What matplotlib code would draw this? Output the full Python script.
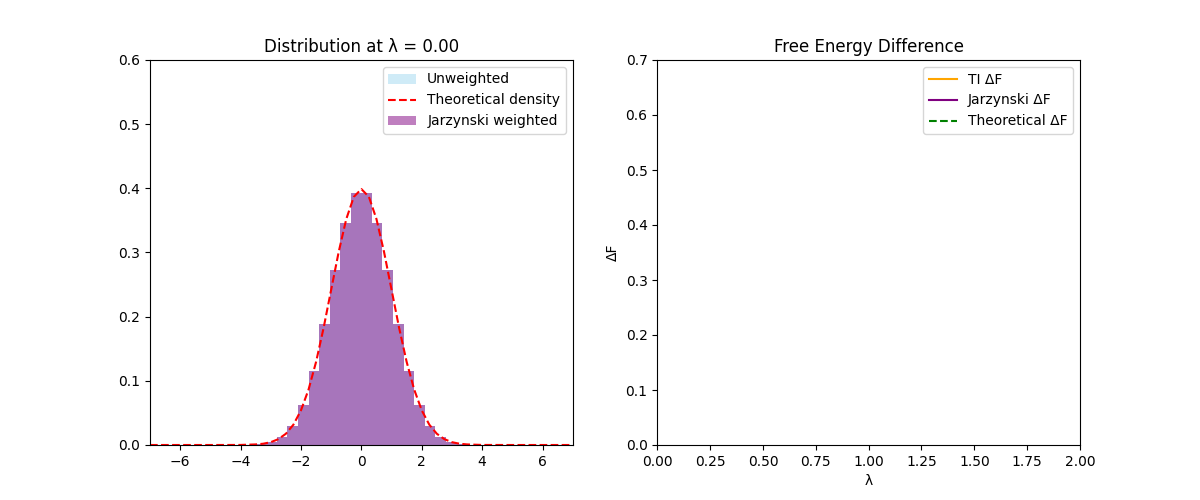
import numpy as np
import matplotlib
matplotlib.use("Agg")
import matplotlib.pyplot as plt

# Histogram bins (-7..7, 40 bins) and density heights
bin_edges = np.linspace(-7, 7, 41)
unweighted_heights = [0, 0, 0, 0, 0, 0, 0, 0, 0, 0.0004,
                      0.0015, 0.005, 0.013, 0.030, 0.063, 0.115, 0.188, 0.272, 0.346, 0.393,
                      0.393, 0.346, 0.272, 0.188, 0.115, 0.063, 0.030, 0.013, 0.005, 0.0015,
                      0.0004, 0, 0, 0, 0, 0, 0, 0, 0, 0]
jarzynski_heights = [0, 0, 0, 0, 0, 0, 0, 0, 0, 0.0004,
                     0.0015, 0.005, 0.013, 0.030, 0.063, 0.115, 0.188, 0.272, 0.346, 0.393,
                     0.393, 0.346, 0.272, 0.188, 0.115, 0.063, 0.030, 0.013, 0.005, 0.0015,
                     0.0004, 0, 0, 0, 0, 0, 0, 0, 0, 0]

# Theoretical density curve points
theory_x = [-7, -6, -5, -4, -3.5, -3.25, -3, -2.75, -2.5, -2.25, -2, -1.75, -1.5, -1.25,
            -1, -0.75, -0.5, -0.25, 0, 0.25, 0.5, 0.75, 1, 1.25, 1.5, 1.75, 2, 2.25,
            2.5, 2.75, 3, 3.25, 3.5, 4, 5, 6, 7]
theory_y = [0, 0, 0, 0.0001, 0.0009, 0.0020, 0.0044, 0.0091, 0.0175, 0.0317, 0.0540,
            0.0863, 0.1295, 0.1826, 0.2420, 0.3011, 0.3521, 0.3867, 0.3989, 0.3867,
            0.3521, 0.3011, 0.2420, 0.1826, 0.1295, 0.0863, 0.0540, 0.0317, 0.0175,
            0.0091, 0.0044, 0.0020, 0.0009, 0.0001, 0, 0, 0]

# Free energy series (empty at lambda = 0)
lam_values = []
ti_dF = []
jarzynski_dF = []
theory_dF = []

fig, (ax1, ax2) = plt.subplots(1, 2, figsize=(12, 5), dpi=100)

widths = np.diff(bin_edges)
h1 = ax1.bar(bin_edges[:-1], unweighted_heights, width=widths, align='edge',
             color='skyblue', alpha=0.4, label='Unweighted')
h2, = ax1.plot(theory_x, theory_y, 'r--', label='Theoretical density')
h3 = ax1.bar(bin_edges[:-1], jarzynski_heights, width=widths, align='edge',
             color='purple', alpha=0.5, label='Jarzynski weighted')
ax1.set_xlim(-7, 7)
ax1.set_ylim(0, 0.6)
ax1.set_title('Distribution at λ = 0.00')
ax1.legend(handles=[h1, h2, h3], loc='upper right')

ax2.plot(lam_values, ti_dF, color='orange', label='TI ΔF')
ax2.plot(lam_values, jarzynski_dF, color='purple', label='Jarzynski ΔF')
ax2.plot(lam_values, theory_dF, 'g--', label='Theoretical ΔF')
ax2.set_xlim(0, 2)
ax2.set_ylim(0, 0.7)
ax2.set_xlabel('λ')
ax2.set_ylabel('ΔF')
ax2.set_title('Free Energy Difference')
ax2.legend(loc='upper right')

fig.savefig('out.png')
